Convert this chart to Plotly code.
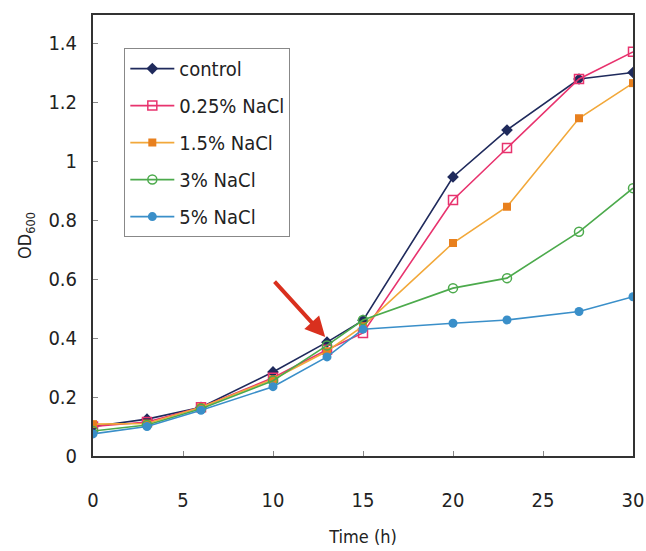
import plotly.graph_objects as go

time_h = [0, 3, 6, 10, 13, 15, 20, 23, 27, 30]
control = [0.10, 0.125, 0.165, 0.285, 0.386, 0.46, 0.946, 1.105, 1.278, 1.30]
nacl_025 = [0.10, 0.115, 0.165, 0.265, 0.36, 0.417, 0.868, 1.044, 1.278, 1.37]
nacl_15 = [0.108, 0.11, 0.165, 0.26, 0.355, 0.44, 0.722, 0.845, 1.145, 1.264]
nacl_3 = [0.085, 0.105, 0.16, 0.255, 0.375, 0.461, 0.569, 0.603, 0.76, 0.908]
nacl_5 = [0.075, 0.10, 0.155, 0.235, 0.336, 0.43, 0.45, 0.461, 0.49, 0.54]

x_ticks = [0, 5, 10, 15, 20, 25, 30]
y_ticks = [0, 0.2, 0.4, 0.6, 0.8, 1.0, 1.2, 1.4]
y_tick_labels = ["0", "0.2", "0.4", "0.6", "0.8", "1", "1.2", "1.4"]

FONT = "DejaVu Sans Condensed, Liberation Sans Narrow, Liberation Sans, sans-serif"

series = [
    ("control", control, "#1f2a5c", dict(symbol="diamond", color="#1f2a5c", size=9)),
    ("0.25% NaCl", nacl_025, "#e8336e", dict(symbol="square-open", color="#e8336e", size=9, line=dict(width=1.5))),
    ("1.5% NaCl", nacl_15, "#f2a83a", dict(symbol="square", color="#e8801e", size=8)),
    ("3% NaCl", nacl_3, "#4caa4c", dict(symbol="circle-open", color="#4caa4c", size=9, line=dict(width=1.5))),
    ("5% NaCl", nacl_5, "#3a8fc9", dict(symbol="circle", color="#3a8fc9", size=9)),
]

fig = go.Figure()
for i, (name, ys, lc, mk) in enumerate(series):
    fig.add_trace(go.Scatter(
        x=time_h, y=ys, name=name, mode="lines+markers",
        line=dict(color=lc, width=1.6), marker=mk, legendgroup=f"g{i}",
    ))

fig.add_annotation(
    x=12.9, y=0.403, xref="x", yref="y", ax=-52, ay=-57,
    showarrow=True, arrowhead=2, arrowsize=1.0, arrowwidth=4,
    arrowcolor="#d9301e", text="",
)

fig.update_layout(
    width=646, height=551,
    margin=dict(l=93, r=13, t=15, b=95),
    paper_bgcolor="white", plot_bgcolor="white",
    font=dict(family=FONT, size=18, color="#222"),
    showlegend=True,
    legend=dict(
        x=0.058, y=0.925, xanchor="left", yanchor="top",
        bordercolor="#888", borderwidth=1, bgcolor="white",
        font=dict(size=20, family=FONT, color="#222"),
        tracegroupgap=8, itemwidth=44,
    ),
)
fig.update_xaxes(
    range=[0, 30], tickvals=x_ticks, ticks="inside", ticklen=5, tickcolor="#888",
    showline=True, linecolor="#333", linewidth=2, mirror=True, showgrid=False,
    zeroline=False, tickfont=dict(size=20), ticklabelstandoff=25, automargin=False,
    title=dict(text="Time (h)", font=dict(size=18), standoff=19),
)
fig.update_yaxes(
    range=[0, 1.495], tickvals=y_ticks, ticktext=y_tick_labels, ticks="inside",
    ticklen=5, tickcolor="#888",
    showline=True, linecolor="#333", linewidth=2, mirror=True, showgrid=False,
    zeroline=False, tickfont=dict(size=20), ticklabelstandoff=10, automargin=False,
    title=dict(text="OD<sub>600</sub>", font=dict(size=18), standoff=12),
)

fig.write_html("out.html", config={"displayModeBar": False},
               post_script="document.body.style.margin='0px';")
